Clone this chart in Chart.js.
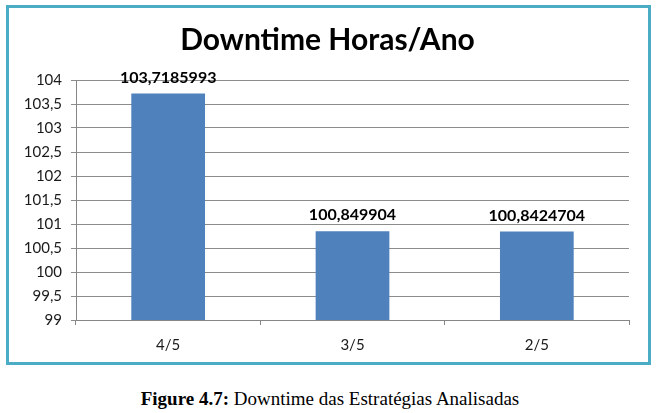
<!DOCTYPE html>
<html lang="pt">
<head>
<meta charset="UTF-8">
<title>Downtime Horas/Ano</title>
<script src="https://cdn.jsdelivr.net/npm/chart.js"></script>
<style>
  body { margin: 0; background: #fff; }
  #wrap { position: relative; width: 660px; height: 413px; }
  #chart { position: absolute; left: 0; top: 0; }
  #frame {
    position: absolute; left: 6px; top: 5px; width: 639px; height: 354px;
    border: 3px solid #4bacc6; pointer-events: none;
  }
  #caption {
    position: absolute; left: 0; top: 388px; width: 660px; text-align: center;
    font-family: "Liberation Serif", serif; font-size: 19px; line-height: 22px; color: #000;
  }
</style>
</head>
<body>
<div id="wrap">
  <canvas id="chart" width="660" height="370"></canvas>
  <div id="frame"></div>
  <div id="caption"><b>Figure 4.7:</b> Downtime das Estratégias Analisadas</div>
</div>

<script>
// values
const categories = ['4/5', '3/5', '2/5'];
const downtime = [103.7185993, 100.849904, 100.8424704];
const yMin = 99, yMax = 104, yStep = 0.5;

const ptBr = v => String(v).replace('.', ',');

// bold value labels above each bar
const valueLabels = {
  id: 'valueLabels',
  afterDatasetsDraw(chart) {
    const ctx = chart.ctx;
    const meta = chart.getDatasetMeta(0);
    ctx.save();
    ctx.font = 'bold 16px Lato, sans-serif';
    ctx.fillStyle = '#000';
    ctx.textAlign = 'center';
    ctx.textBaseline = 'bottom';
    meta.data.forEach((bar, i) => {
      ctx.fillText(ptBr(downtime[i]), bar.x, bar.y - 8);
    });
    ctx.restore();
  }
};

new Chart(document.getElementById('chart'), {
  type: 'bar',
  data: {
    labels: categories,
    datasets: [{
      data: downtime,
      backgroundColor: '#4f81bd',
      borderWidth: 0,
      categoryPercentage: 1,
      barPercentage: 0.4
    }]
  },
  options: {
    responsive: false,
    animation: false,
    layout: { padding: { left: 0, right: 5, top: 0, bottom: 0 } },
    plugins: {
      legend: { display: false },
      tooltip: { enabled: false },
      title: {
        display: true,
        text: 'Downtime Horas/Ano',
        color: '#000',
        font: { family: 'Lato', size: 30, weight: 'bold', lineHeight: 1.2 },
        padding: { top: 22, bottom: 22 }
      }
    },
    scales: {
      x: {
        grid: { drawOnChartArea: false, drawTicks: true, tickLength: 5, color: '#868686', offset: true },
        border: { color: '#868686' },
        ticks: { color: '#1a1a1a', font: { family: 'Lato', size: 15 }, padding: 11 },
        afterFit(scale) { scale.height = 50; }
      },
      y: {
        min: yMin,
        max: yMax,
        grid: { color: '#8c8c8c', tickLength: 5 },
        border: { color: '#868686' },
        ticks: {
          stepSize: yStep,
          color: '#1a1a1a',
          font: { family: 'Lato', size: 15 },
          padding: 9,
          callback: v => ptBr(v)
        },
        afterFit(scale) { scale.width = 76; }
      },
      // empty spacer on the right so the title centres like the original
      yRight: {
        position: 'right',
        min: yMin,
        max: yMax,
        grid: { drawOnChartArea: false, drawTicks: false },
        border: { display: false },
        ticks: { display: false },
        afterFit(scale) { scale.width = 26; }
      }
    }
  },
  plugins: [valueLabels]
});
</script>
</body>
</html>
